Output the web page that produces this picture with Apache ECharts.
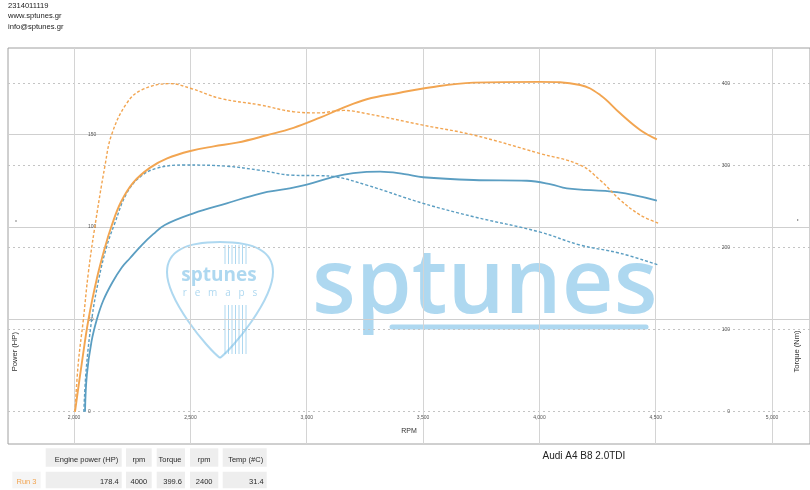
<!DOCTYPE html>
<html><head><meta charset="utf-8">
<script src="https://cdn.jsdelivr.net/npm/echarts@6/dist/echarts.min.js"></script>
<style>html,body{margin:0;padding:0;background:#fff}#c{width:810px;height:490px}</style>
</head><body><div id="c"></div>
<script>
// ---- tick values ----
const rpmTicks = [2000, 2500, 3000, 3500, 4000, 4500, 5000];
const powerLabelTicks = [0, 50, 100, 150];
const powerSplitTicks = [50, 100, 150];
const torqueTicks = [0, 100, 200, 300, 400];

// ---- Run 3 (orange) ----
const run3PowerRpm = [2004, 2033, 2062, 2098, 2133, 2160, 2200, 2255, 2327, 2400, 2500, 2600, 2700, 2828, 2943, 3057, 3150, 3258, 3400, 3500, 3717, 4000, 4175, 4261, 4347, 4433, 4505];
const run3Power    = [0, 26, 50, 72, 89, 100, 113, 124, 132, 137, 141, 143.5, 145.5, 149.5, 153.5, 159, 164, 169, 172.5, 174.8, 178, 178.4, 176.7, 171.3, 161.4, 152.4, 147.3];
const run3TorqueRpm = [2004, 2018, 2040, 2061, 2087, 2133, 2162, 2226, 2291, 2413, 2500, 2628, 2800, 2943, 3050, 3158, 3258, 3500, 3717, 4000, 4175, 4261, 4347, 4433, 4512];
const run3Torque    = [0, 59, 112.5, 168.6, 221, 300, 338, 375.6, 392, 399.6, 394, 381.7, 373.6, 365.4, 364, 367, 363, 349, 337, 314.7, 300.5, 282, 258, 239.6, 229.5];

// ---- Reference run (blue) ----
const basePowerRpm = [2047, 2055, 2075, 2098, 2125, 2165, 2205, 2240, 2290, 2340, 2390, 2513, 2656, 2800, 2914, 3000, 3115, 3200, 3315, 3420, 3500, 3717, 3946, 4050, 4118, 4333, 4505];
const basePower    = [0, 20, 38, 50, 60, 70, 78, 83, 90, 96, 101, 107.3, 112.7, 118, 120.5, 122.8, 127, 129, 129.8, 128.5, 126.8, 125.3, 124.9, 123, 120.8, 118.7, 114.2];
const baseTorqueRpm = [2042, 2052, 2076, 2105, 2140, 2173, 2226, 2284, 2355, 2470, 2656, 2800, 2943, 3057, 3115, 3258, 3500, 3717, 4000, 4175, 4347, 4512];
const baseTorque    = [0, 51, 112.5, 160, 201, 228, 266, 286, 296.5, 300.5, 299, 294, 288, 287.5, 286.5, 276, 253.8, 237.5, 219, 203, 193, 178.7];

// ---- texts ----
const headerLines = ['2314011119', 'www.sptunes.gr', 'info@sptunes.gr'];
const tableHeaders = ['Engine power (HP)', 'rpm', 'Torque', 'rpm', 'Temp (#C)'];
const runLabel = 'Run 3';
const tableValues = ['178.4', '4000', '399.6', '2400', '31.4'];
const carTitle = 'Audi A4 B8 2.0TDI';

const ORANGE = '#f2a551';
const BLUE = '#5b9ec2';
const FONT = 'Liberation Sans, Arial, sans-serif';

function zip(a, b) { return a.map((v, i) => [v, b[i]]); }

const chart = echarts.init(document.getElementById('c'), null, {renderer: 'canvas'});

// table layout (positions only)
const colX = [[45.7, 121.7], [126, 151.7], [156.7, 185], [190, 218.3], [222.7, 266.7]];
const headAlign = ['right', 'center', 'right', 'center', 'right'];
const valAlign = ['right', 'center', 'right', 'center', 'right'];
const graphics = [];
headerLines.forEach((t, i) => graphics.push({type: 'text', x: 8, y: 6 + i * 10.3, style: {text: t, font: '7.6px ' + FONT, fill: '#222', align: 'left', verticalAlign: 'middle'}}));
colX.forEach((c, i) => {
  graphics.push({type: 'rect', shape: {x: c[0], y: 448.3, width: c[1] - c[0], height: 18.4}, style: {fill: '#eeeeee'}, z: 1});
  graphics.push({type: 'rect', shape: {x: c[0], y: 471.7, width: c[1] - c[0], height: 16.6}, style: {fill: '#eeeeee'}, z: 1});
  const hx = headAlign[i] === 'right' ? c[1] - 3.5 : (c[0] + c[1]) / 2;
  const vx = valAlign[i] === 'right' ? c[1] - 3 : (c[0] + c[1]) / 2;
  graphics.push({type: 'text', x: hx, y: 459.5, z: 2, style: {text: tableHeaders[i], font: '7.5px ' + FONT, fill: '#2a2a2a', align: headAlign[i], verticalAlign: 'middle'}});
  graphics.push({type: 'text', x: vx, y: 481.5, z: 2, style: {text: tableValues[i], font: '7.5px ' + FONT, fill: '#2a2a2a', align: valAlign[i], verticalAlign: 'middle'}});
});
graphics.push({type: 'rect', shape: {x: 12.3, y: 471.7, width: 28.4, height: 16.6}, style: {fill: '#f5f5f5'}, z: 1});
graphics.push({type: 'text', x: 36.5, y: 481.5, z: 2, style: {text: runLabel, font: '7.5px ' + FONT, fill: ORANGE, align: 'right', verticalAlign: 'middle'}});
graphics.push({type: 'text', x: 542.5, y: 456, z: 2, style: {text: carTitle, font: '10px ' + FONT, fill: '#222', align: 'left', verticalAlign: 'middle'}});
// axis names
graphics.push({type: 'text', x: 15, y: 351.7, rotation: Math.PI / 2, z: 2, style: {text: 'Power (HP)', font: '7.6px ' + FONT, fill: '#333', align: 'center', verticalAlign: 'middle'}});
graphics.push({type: 'text', x: 797, y: 351.5, rotation: Math.PI / 2, z: 2, style: {text: 'Torque (Nm)', font: '7.6px ' + FONT, fill: '#333', align: 'center', verticalAlign: 'middle'}});
graphics.push({type: 'circle', shape: {cx: 16, cy: 221, r: 0.7}, style: {fill: '#555'}, z: 2});
graphics.push({type: 'circle', shape: {cx: 797.7, cy: 220, r: 0.7}, style: {fill: '#555'}, z: 2});
// watermark
const WM = 'rgba(120,190,230,0.6)';
graphics.push({type: 'text', x: 312, y: 287.5, z: 0, silent: true, style: {text: 'sptunes', font: '600 90px "Open Sans", sans-serif', fill: WM, align: 'left', verticalAlign: 'middle'}});
graphics.push({type: 'line', shape: {x1: 392, y1: 327, x2: 646, y2: 327}, z: 0, silent: true, style: {stroke: WM, lineWidth: 5, lineCap: 'round'}});
// guitar-pick badge outline (4 bezier segments)
const px = 167, py = 242;
const pickSegs = [
  [53, 0, 106, 30, 86, 0, 106, 8],
  [106, 30, 53, 116, 106, 58, 66, 106],
  [53, 116, 0, 30, 40, 106, 0, 58],
  [0, 30, 53, 0, 0, 8, 20, 0]
];
pickSegs.forEach(s => graphics.push({type: 'bezierCurve', z: 0, silent: true,
  shape: {x1: px + s[0], y1: py + s[1], x2: px + s[2], y2: py + s[3], cpx1: px + s[4], cpy1: py + s[5], cpx2: px + s[6], cpy2: py + s[7]},
  style: {fill: 'none', stroke: WM, lineWidth: 2}}));
for (let i = 0; i < 7; i++) {
  const sx = 225 + i * 3.5;
  graphics.push({type: 'line', shape: {x1: sx, y1: 245, x2: sx, y2: 264}, z: 0, silent: true, style: {stroke: WM, lineWidth: 1}});
  graphics.push({type: 'line', shape: {x1: sx, y1: 305, x2: sx, y2: 354}, z: 0, silent: true, style: {stroke: WM, lineWidth: 1}});
}
graphics.push({type: 'text', x: 219, y: 276, z: 0, silent: true, style: {text: 'sptunes', font: 'bold 19px "Open Sans", sans-serif', fill: WM, align: 'center', verticalAlign: 'middle'}});
graphics.push({type: 'text', x: 220, y: 293, z: 0, silent: true, style: {text: 'r   e   m   a   p   s', font: '10px "Open Sans", sans-serif', fill: WM, align: 'center', verticalAlign: 'middle'}});

const lineBase = {type: 'line', showSymbol: false, smooth: 0.4, silent: true, z: 3};

chart.setOption({
  animation: false,
  backgroundColor: '#fff',
  grid: {left: 8, right: 0, top: 48, bottom: 46, show: true, borderColor: '#a0a0a0', borderWidth: 1},
  xAxis: {
    type: 'value', min: 1716, max: 5163, offset: -32.3,
    name: 'RPM', nameLocation: 'middle', nameGap: 16,
    nameTextStyle: {fontFamily: FONT, fontSize: 7, color: '#333'},
    axisLine: {show: false, onZero: false},
    axisTick: {show: false, customValues: rpmTicks},
    axisLabel: {customValues: rpmTicks, margin: 3, fontSize: 5, fontFamily: FONT, color: '#555',
      formatter: v => v.toLocaleString('en-US')},
    splitLine: {show: true, lineStyle: {color: '#d4d4d4', width: 1}}
  },
  yAxis: [{
    type: 'value', min: -17.47, max: 196.7, position: 'left',
    axisLine: {show: false}, axisTick: {show: false, customValues: powerSplitTicks},
    axisLabel: {inside: true, margin: 80, customValues: powerLabelTicks, fontSize: 5, fontFamily: FONT, color: '#555'},
    splitLine: {show: true, lineStyle: {color: '#cfcfcf', width: 1}}
  }, {
    type: 'value', min: -39.3, max: 443, position: 'right',
    axisLine: {show: false}, axisTick: {show: false, customValues: torqueTicks},
    axisLabel: {inside: true, margin: 80, customValues: torqueTicks, fontSize: 5, fontFamily: FONT, color: '#555'},
    splitLine: {show: true, lineStyle: {color: '#c4c4c4', width: 1, type: [2, 3]}}
  }],
  graphic: graphics,
  series: [
    Object.assign({}, lineBase, {name: 'Base torque', yAxisIndex: 1, data: zip(baseTorqueRpm, baseTorque), lineStyle: {color: BLUE, width: 1.4, type: [3, 2]}}),
    Object.assign({}, lineBase, {name: 'Base power', yAxisIndex: 0, data: zip(basePowerRpm, basePower), lineStyle: {color: BLUE, width: 1.8}}),
    Object.assign({}, lineBase, {name: 'Run 3 torque', yAxisIndex: 1, data: zip(run3TorqueRpm, run3Torque), lineStyle: {color: ORANGE, width: 1.4, type: [3, 2]}}),
    Object.assign({}, lineBase, {name: 'Run 3 power', yAxisIndex: 0, data: zip(run3PowerRpm, run3Power), lineStyle: {color: ORANGE, width: 1.9}})
  ]
});
</script></body></html>
